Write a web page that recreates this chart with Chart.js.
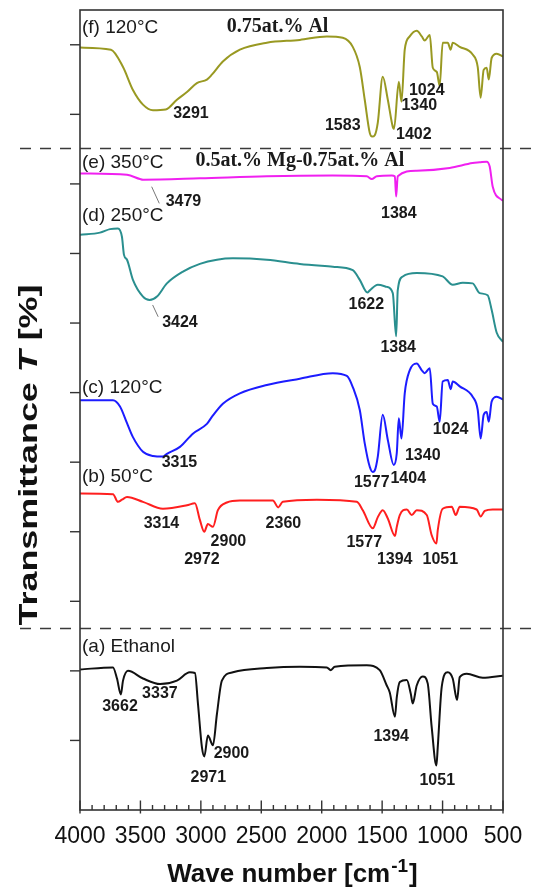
<!DOCTYPE html>
<html>
<head>
<meta charset="utf-8">
<script src="https://cdn.jsdelivr.net/npm/chart.js@4.4.1/dist/chart.umd.min.js"></script>
<style>
  html, body { margin: 0; padding: 0; background: #fff; }
  #wrap { width: 539px; height: 892px; }
</style>
</head>
<body>
<div id="wrap"><canvas id="ftir" width="539" height="892"></canvas></div>
<script>
// FTIR spectra: wavenumber (cm^-1) and vertically offset transmittance (a.u.)

// (a) Ethanol
const ethanolWn = [4000,3727,3694,3662,3644,3603,3479,3337,3198,3091,3049,3024,2991,2971,2942,2900,2867,2826,2735,2454,2181,1958,1925,1892,1627,1520,1462,1437,1394,1379,1354,1296,1263,1247,1214,1164,1123,1090,1051,1040,1007,957,916,880,858,800,668,500];
const ethanolT  = [20.2,20.5,18.9,16.6,18.6,20.0,18.9,18.1,18.6,19.8,19.7,15.3,9.0,7.7,10.7,9.3,13.8,18.6,19.8,20.4,20.6,20.5,20.1,20.6,20.8,20.1,17.9,16.9,13.4,16.2,18.4,18.7,16.7,15.3,17.9,19.2,18.2,11.9,6.4,9.0,17.7,19.8,18.9,15.8,19.1,19.6,19.0,19.3];

// (b) 50 °C
const dried50Wn = [4000,3727,3686,3653,3611,3479,3314,3115,3049,3008,2972,2942,2900,2859,2785,2677,2404,2360,2322,2040,1710,1660,1577,1536,1495,1453,1394,1379,1354,1296,1255,1214,1131,1090,1051,1040,999,924,891,858,718,685,651,585,500];
const dried50T  = [45.5,45.4,44.3,44.6,45.0,44.3,43.3,43.8,44.1,41.7,40.0,41.1,40.7,43.1,44.2,44.5,44.5,43.5,44.3,44.6,44.3,43.1,40.5,42.1,43.1,41.9,39.4,40.7,42.4,43.2,42.4,43.1,42.4,39.5,38.3,40.2,43.3,43.6,42.4,43.6,43.2,42.2,43.0,43.2,43.2];

// (c) 120 °C
const dried120Wn = [4000,3727,3669,3611,3562,3479,3396,3315,3281,3173,3066,2950,2909,2818,2677,2454,2181,1908,1792,1743,1685,1644,1602,1577,1561,1536,1495,1453,1404,1379,1362,1340,1313,1272,1214,1172,1148,1106,1081,1048,1024,999,957,933,916,858,751,709,685,660,635,618,594,552,500];
const dried120T  = [58.9,58.9,58.0,55.6,53.6,51.5,50.9,50.8,51.2,52.2,54.1,55.5,56.5,58.4,59.9,61.1,62.0,62.8,62.4,60.8,57.5,52.7,49.3,48.6,48.8,50.8,56.8,53.2,49.6,51.3,56.3,53.4,59.9,63.2,64.2,63.2,62.8,63.5,58.4,58.0,55.8,61.6,61.8,60.5,61.6,60.9,59.4,57.5,53.4,56.8,57.2,55.8,58.7,59.4,59.0];

// (d) 250 °C
const annealed250Wn = [4000,3835,3752,3686,3653,3636,3611,3562,3479,3424,3363,3281,3148,3008,2867,2735,2454,2181,1908,1743,1685,1622,1602,1536,1462,1412,1384,1371,1329,1214,999,916,833,751,693,627,594,552,500];
const annealed250T  = [82.7,83.0,83.5,83.6,82.4,79.8,79.1,76.2,73.8,73.3,73.8,75.7,77.4,78.5,79.1,79.3,79.1,78.5,78.1,77.6,76.2,74.4,74.7,75.5,75.2,74.3,68.1,74.7,76.7,77.2,76.7,75.5,75.8,75.7,74.3,74.0,71.9,68.6,67.3];

// (e) 350 °C
const annealed350Wn = [4000,3611,3504,3479,3008,2454,1908,1627,1586,1544,1420,1395,1384,1371,1214,941,751,693,635,610,585,511,500];
const annealed350T  = [91.5,91.3,90.7,90.6,90.8,91.1,91.2,91.1,90.7,91.1,91.2,91.1,88.2,91.1,91.9,92.3,93.0,93.1,93.2,92.5,89.6,87.7,87.6];

// (f) 120 °C, 0.75at.% Al
const alDoped120Wn = [4000,3744,3644,3562,3479,3396,3291,3198,3115,3033,2950,2909,2818,2677,2454,2181,1958,1826,1743,1685,1644,1602,1583,1561,1536,1495,1453,1412,1402,1362,1340,1313,1272,1214,1172,1148,1106,1081,1048,1024,999,957,933,916,858,751,709,685,660,635,618,594,552,500];
const alDoped120T  = [109.6,109.3,106.8,103.5,101.4,100.6,100.7,102.1,103.2,104.5,105.0,105.7,107.6,109.3,110.3,110.7,111.2,111.0,109.7,106.8,102.1,97.3,96.8,97.0,98.8,105.4,102.1,98.2,97.9,104.7,101.8,109.3,111.2,112.0,111.2,110.6,111.4,106.7,106.1,104.1,110.3,110.3,109.3,110.3,109.7,108.6,106.8,102.4,106.4,106.7,105.0,108.1,108.7,108.3];

// axis ticks
const xTickStep = 500;
const xMinorStep = 100;
const yTickStep = 10;

// curve captions
const seriesNames = ['(a) Ethanol', '(b) 50°C', '(c) 120°C', '(d) 250°C', '(e) 350°C', '(f) 120°C'];
const sampleTitles = ['0.75at.% Al', '0.5at.% Mg-0.75at.% Al'];

// dashed separators between sample groups (transmittance units)
const separators = [95.2, 26.1];

// peak annotations: peak wavenumber and where its label sits [wn, T]
const peakLabels = [
  { peak: 3291, at: [3082, 100.1] }, { peak: 1583, at: [1826, 98.4] }, { peak: 1402, at: [1238, 97.1] },
  { peak: 1340, at: [1193, 101.2] }, { peak: 1024, at: [1131, 103.4] },
  { peak: 3479, at: [3144, 87.4] }, { peak: 1384, at: [1362, 85.8] },
  { peak: 3424, at: [3173, 70.1] }, { peak: 1622, at: [1631, 72.6] }, { peak: 1384, at: [1367, 66.4] },
  { peak: 3315, at: [3177, 49.9] }, { peak: 1340, at: [1164, 51.0] }, { peak: 1024, at: [933, 54.7] },
  { peak: 1577, at: [1586, 47.1] }, { peak: 1404, at: [1284, 47.6] },
  { peak: 3314, at: [3326, 41.2] }, { peak: 2900, at: [2772, 38.6] }, { peak: 2972, at: [2991, 36.0] },
  { peak: 2360, at: [2317, 41.2] }, { peak: 1577, at: [1648, 38.5] }, { peak: 1394, at: [1396, 36.0] },
  { peak: 1051, at: [1019, 36.0] },
  { peak: 3662, at: [3669, 14.8] }, { peak: 3337, at: [3339, 16.7] }, { peak: 2971, at: [2938, 4.7] },
  { peak: 2900, at: [2747, 8.1] }, { peak: 1394, at: [1425, 10.5] }, { peak: 1051, at: [1044, 4.2] }
];
// thin leader lines for the weak O-H bands
const leaders = [
  [[3407, 89.6], [3344, 87.2]],
  [[3399, 72.6], [3353, 70.9]]
];

const SANS = '"Liberation Sans", Arial, Helvetica, sans-serif';
const SERIF = '"Liberation Serif", "Times New Roman", serif';

function toPoints(wn, t) { return wn.map((w, i) => ({ x: w, y: t[i] })); }

function spectrum(label, wn, t, color) {
  return {
    label, data: toPoints(wn, t), borderColor: color, borderWidth: 2,
    pointRadius: 0, fill: false, cubicInterpolationMode: 'monotone'
  };
}

const overlay = {
  id: 'overlay',
  afterDatasetsDraw(chart) {
    const { ctx, chartArea: a, scales: { x, y } } = chart;
    const px = v => x.getPixelForValue(v);
    const py = v => y.getPixelForValue(v);
    const seg = (x1, y1, x2, y2) => { ctx.beginPath(); ctx.moveTo(x1, y1); ctx.lineTo(x2, y2); ctx.stroke(); };
    ctx.save();

    // group separators
    ctx.strokeStyle = '#3a3a3a';
    ctx.lineWidth = 1.5;
    ctx.setLineDash([11, 9]);
    separators.forEach(v => { const yy = Math.round(py(v)) + 0.5; seg(20, yy, chart.width, yy); });
    ctx.setLineDash([]);

    // plot frame
    ctx.strokeStyle = '#333';
    ctx.lineWidth = 1.6;
    ctx.strokeRect(a.left, a.top, a.right - a.left, a.bottom - a.top);

    // x ticks (major cross the axis, minor inside)
    ctx.lineWidth = 1.4;
    x.ticks.forEach(t => seg(px(t.value), a.bottom - 9.5, px(t.value), a.bottom + 3.5));
    for (let v = x.min + xMinorStep; v < x.max; v += xMinorStep) {
      if (v % xTickStep !== 0) seg(px(v), a.bottom - 5, px(v), a.bottom);
    }
    // y ticks (outside)
    y.ticks.forEach(t => {
      if (t.value > y.min && t.value % yTickStep === 0) seg(a.left - 10, py(t.value), a.left, py(t.value));
    });

    // x tick labels
    ctx.fillStyle = '#111';
    ctx.font = '23px ' + SANS;
    ctx.textAlign = 'center';
    ctx.textBaseline = 'alphabetic';
    x.ticks.forEach(t => ctx.fillText(String(t.value), px(t.value), a.bottom + 33));

    // x axis title with superscript
    const cx = (a.left + a.right) / 2;
    const mainF = 'bold 26px ' + SANS, supF = 'bold 19px ' + SANS;
    ctx.font = mainF; const w1 = ctx.measureText('Wave number [cm').width; const w3 = ctx.measureText(']').width;
    ctx.font = supF; const w2 = ctx.measureText('-1').width;
    let sx = cx - (w1 + w2 + w3) / 2;
    ctx.textAlign = 'left';
    ctx.font = mainF; ctx.fillText('Wave number [cm', sx, 882);
    ctx.font = supF; ctx.fillText('-1', sx + w1 + 1, 872);
    ctx.font = mainF; ctx.fillText(']', sx + w1 + w2 + 2, 882);

    // y axis title, italic T
    ctx.save();
    ctx.translate(37, (a.top + a.bottom) / 2 + 45);
    ctx.rotate(-Math.PI / 2);
    ctx.scale(1.38, 1);
    const parts = [['Transmittance ', 'bold 26px '], ['T', 'italic bold 26px '], [' [%]', 'bold 26px ']];
    const widths = parts.map(p => { ctx.font = p[1] + SANS; return ctx.measureText(p[0]).width; });
    let tx = -widths.reduce((s, w) => s + w, 0) / 2;
    parts.forEach((p, i) => { ctx.font = p[1] + SANS; ctx.fillText(p[0], tx, 0); tx += widths[i]; });
    ctx.restore();

    // series captions
    ctx.font = '19px ' + SANS;
    ctx.fillStyle = '#1a1a1a';
    const captionY = [22.7, 47.1, 59.9, 84.7, 92.3, 111.7];
    seriesNames.forEach((s, i) => ctx.fillText(s, a.left + 2, py(captionY[i])));

    // sample titles
    ctx.font = 'bold 20px ' + SERIF;
    ctx.textAlign = 'center';
    ctx.fillText(sampleTitles[0], px(2365), py(111.9));
    ctx.fillText(sampleTitles[1], px(2181), py(92.6));

    // leader lines
    ctx.strokeStyle = '#777';
    ctx.lineWidth = 1;
    leaders.forEach(([p, q]) => seg(px(p[0]), py(p[1]), px(q[0]), py(q[1])));

    // peak labels
    ctx.font = 'bold 16px ' + SANS;
    ctx.fillStyle = '#1a1a1a';
    ctx.textBaseline = 'middle';
    peakLabels.forEach(l => ctx.fillText(String(l.peak), px(l.at[0]), py(l.at[1])));

    ctx.restore();
  }
};

new Chart(document.getElementById('ftir'), {
  type: 'line',
  data: {
    datasets: [
      spectrum(seriesNames[0], ethanolWn, ethanolT, '#111111'),
      spectrum(seriesNames[1], dried50Wn, dried50T, '#ff1f1f'),
      spectrum(seriesNames[2], dried120Wn, dried120T, '#1c1cff'),
      spectrum(seriesNames[3], annealed250Wn, annealed250T, '#2a8f8f'),
      spectrum(seriesNames[4], annealed350Wn, annealed350T, '#f020f0'),
      spectrum(seriesNames[5], alDoped120Wn, alDoped120T, '#999922')
    ]
  },
  options: {
    responsive: false,
    animation: false,
    devicePixelRatio: 1,
    layout: { padding: { left: 80, right: 36, top: 10, bottom: 82 } },
    plugins: { legend: { display: false }, tooltip: { enabled: false } },
    scales: {
      x: {
        type: 'linear', reverse: true, min: 500, max: 4000,
        ticks: { display: false, stepSize: xTickStep },
        grid: { display: false, drawTicks: false },
        border: { display: false },
        title: { display: false }
      },
      y: {
        type: 'linear', min: 0, max: 115,
        ticks: { display: false, stepSize: yTickStep },
        grid: { display: false, drawTicks: false },
        border: { display: false },
        title: { display: false }
      }
    }
  },
  plugins: [overlay]
});
</script>
</body>
</html>
